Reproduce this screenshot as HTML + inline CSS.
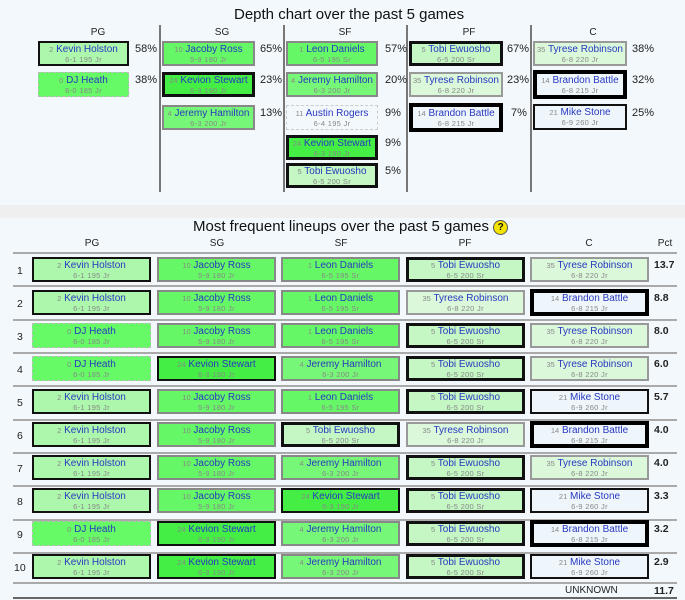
<!DOCTYPE html>
<html><head><meta charset="utf-8"><style>
body{margin:0;width:685px;height:600px;background:#f2f8fc;font-family:"Liberation Sans",sans-serif;position:relative;overflow:hidden}
.a{position:absolute}
.t{position:absolute;font-size:15px;color:#111;white-space:nowrap}
.h{position:absolute;font-size:10px;color:#222;transform:translateX(-50%)}
.p{position:absolute;font-size:11px;color:#222}
.v{position:absolute;width:2px;background:#777;top:25px;height:167px}
.b{position:absolute;height:25px;box-sizing:border-box;text-align:center;font-size:10px;line-height:11px;color:#2838c0;white-space:nowrap;overflow:hidden;display:flex;flex-direction:column;justify-content:center}
.b i{font-style:normal;font-size:7.5px;color:#888}
.b s{display:block;text-decoration:none;font-size:7.5px;color:#888;line-height:9px;letter-spacing:.3px}
.KH{background:#adf7ad;border:2px solid #111}
.DJ{background:#66fa66;border:1px dashed #bbb}
.JR,.LD{background:#66f766;border:2px solid #888}
.KS{background:#44ee44;border:2px solid #111}
.JH{background:#77f777;border:2px solid #888}
.AR{background:#f3f8fc;border:1px dashed #ccc}
.TE{background:#c4f7c4;border:3px solid #111}
.TR{background:#dbf8db;border:2px solid #999}
.BB{background:#eef6fb;border:4px solid #000}
.MS{background:#eef6fb;border:2px solid #111}
.d{width:91px}
.l{width:119px;top:0}
.l.BB{height:27px;top:-1px}
.r{position:absolute;left:0;width:685px;height:33px}
.n{position:absolute;left:17px;top:8px;font-size:10.5px;color:#222}
.pc{position:absolute;left:654px;top:2px;font-size:10.5px;color:#222;font-weight:bold}
.hl{position:absolute;left:13px;width:664px;height:2px;background:#aaa}
</style></head><body>
<div class="t" style="left:234px;top:6px">Depth chart over the past 5 games</div>
<div class="h" style="left:98px;top:27px">PG</div>
<div class="h" style="left:222px;top:27px">SG</div>
<div class="h" style="left:345px;top:27px">SF</div>
<div class="h" style="left:469px;top:27px">PF</div>
<div class="h" style="left:593px;top:27px">C</div>
<div class="v" style="left:159px"></div><div class="v" style="left:283px"></div><div class="v" style="left:406px"></div><div class="v" style="left:530px"></div>

<div class="b d KH" style="left:38px;top:41px"><div><i>2</i> Kevin Holston</div><s>6-1 195 Jr</s></div><div class="p" style="left:135px;top:43px">58%</div>
<div class="b d DJ" style="left:38px;top:72px"><div><i>0</i> DJ Heath</div><s>6-0 185 Jr</s></div><div class="p" style="left:135px;top:74px">38%</div>

<div class="b d JR" style="left:162px;top:41px;width:93px"><div><i>10</i> Jacoby Ross</div><s>5-9 180 Jr</s></div><div class="p" style="left:260px;top:43px">65%</div>
<div class="b d KS" style="left:162px;top:72px;width:93px;border-width:3px"><div><i>24</i> Kevion Stewart</div><s>6-3 190 Jr</s></div><div class="p" style="left:260px;top:74px">23%</div>
<div class="b d JH" style="left:162px;top:105px;width:93px"><div><i>4</i> Jeremy Hamilton</div><s>6-3 200 Jr</s></div><div class="p" style="left:260px;top:107px">13%</div>

<div class="b d LD" style="left:286px;top:41px;width:92px"><div><i>1</i> Leon Daniels</div><s>6-5 195 Sr</s></div><div class="p" style="left:385px;top:43px">57%</div>
<div class="b d JH" style="left:286px;top:72px;width:92px"><div><i>4</i> Jeremy Hamilton</div><s>6-3 200 Jr</s></div><div class="p" style="left:385px;top:74px">20%</div>
<div class="b d AR" style="left:286px;top:105px;width:92px"><div><i>11</i> Austin Rogers</div><s>6-4 195 Jr</s></div><div class="p" style="left:385px;top:107px">9%</div>
<div class="b d KS" style="left:286px;top:135px;width:92px;border-width:3px"><div><i>24</i> Kevion Stewart</div><s>6-3 190 Jr</s></div><div class="p" style="left:385px;top:137px">9%</div>
<div class="b d TE" style="left:286px;top:163px;width:92px"><div><i>5</i> Tobi Ewuosho</div><s>6-5 200 Sr</s></div><div class="p" style="left:385px;top:165px">5%</div>

<div class="b d TE" style="left:409px;top:41px;width:94px"><div><i>5</i> Tobi Ewuosho</div><s>6-5 200 Sr</s></div><div class="p" style="left:507px;top:43px">67%</div>
<div class="b d TR" style="left:409px;top:72px;width:94px"><div><i>35</i> Tyrese Robinson</div><s>6-8 220 Jr</s></div><div class="p" style="left:507px;top:74px">23%</div>
<div class="b d BB" style="left:409px;top:103px;width:94px;height:29px"><div><i>14</i> Brandon Battle</div><s>6-8 215 Jr</s></div><div class="p" style="left:511px;top:107px">7%</div>

<div class="b d TR" style="left:533px;top:41px;width:94px"><div><i>35</i> Tyrese Robinson</div><s>6-8 220 Jr</s></div><div class="p" style="left:632px;top:43px">38%</div>
<div class="b d BB" style="left:533px;top:70px;width:94px;height:29px"><div><i>14</i> Brandon Battle</div><s>6-8 215 Jr</s></div><div class="p" style="left:632px;top:74px">32%</div>
<div class="b d MS" style="left:533px;top:104px;width:94px;height:26px"><div><i>21</i> Mike Stone</div><s>6-9 260 Jr</s></div><div class="p" style="left:632px;top:107px">25%</div>

<div class="a" style="left:0;top:205px;width:685px;height:13px;background:#efefef"></div>
<div class="t" style="left:193px;top:218px">Most frequent lineups over the past 5 games <span style="display:inline-block;width:13px;height:13px;border-radius:50%;background:#f5e400;border:1px solid #555;font-size:10px;line-height:13px;text-align:center;font-weight:bold;vertical-align:1px">?</span></div>
<div class="h" style="left:92px;top:238px">PG</div>
<div class="h" style="left:217px;top:238px">SG</div>
<div class="h" style="left:341px;top:238px">SF</div>
<div class="h" style="left:465px;top:238px">PF</div>
<div class="h" style="left:589px;top:238px">C</div>
<div class="h" style="left:665px;top:238px">Pct</div>

<div class="hl" style="top:252px"></div><div class="hl" style="top:285px"></div><div class="hl" style="top:319px"></div><div class="hl" style="top:352px"></div><div class="hl" style="top:385px"></div><div class="hl" style="top:419px"></div><div class="hl" style="top:452px"></div><div class="hl" style="top:485px"></div><div class="hl" style="top:519px"></div><div class="hl" style="top:552px"></div><div class="hl" style="top:582px"></div><div class="hl" style="top:597px;background:#666"></div>

<div class="r" style="top:257px"><div class="n">1</div>
<div class="b l KH" style="left:32px"><div><i>2</i> Kevin Holston</div><s>6-1 195 Jr</s></div>
<div class="b l JR" style="left:157px"><div><i>10</i> Jacoby Ross</div><s>5-9 180 Jr</s></div>
<div class="b l LD" style="left:281px"><div><i>1</i> Leon Daniels</div><s>6-5 195 Sr</s></div>
<div class="b l TE" style="left:406px"><div><i>5</i> Tobi Ewuosho</div><s>6-5 200 Sr</s></div>
<div class="b l TR" style="left:530px"><div><i>35</i> Tyrese Robinson</div><s>6-8 220 Jr</s></div>
<div class="pc">13.7</div></div>

<div class="r" style="top:290px"><div class="n">2</div>
<div class="b l KH" style="left:32px"><div><i>2</i> Kevin Holston</div><s>6-1 195 Jr</s></div>
<div class="b l JR" style="left:157px"><div><i>10</i> Jacoby Ross</div><s>5-9 180 Jr</s></div>
<div class="b l LD" style="left:281px"><div><i>1</i> Leon Daniels</div><s>6-5 195 Sr</s></div>
<div class="b l TR" style="left:406px"><div><i>35</i> Tyrese Robinson</div><s>6-8 220 Jr</s></div>
<div class="b l BB" style="left:530px"><div><i>14</i> Brandon Battle</div><s>6-8 215 Jr</s></div>
<div class="pc">8.8</div></div>

<div class="r" style="top:323px"><div class="n">3</div>
<div class="b l DJ" style="left:32px"><div><i>0</i> DJ Heath</div><s>6-0 185 Jr</s></div>
<div class="b l JR" style="left:157px"><div><i>10</i> Jacoby Ross</div><s>5-9 180 Jr</s></div>
<div class="b l LD" style="left:281px"><div><i>1</i> Leon Daniels</div><s>6-5 195 Sr</s></div>
<div class="b l TE" style="left:406px"><div><i>5</i> Tobi Ewuosho</div><s>6-5 200 Sr</s></div>
<div class="b l TR" style="left:530px"><div><i>35</i> Tyrese Robinson</div><s>6-8 220 Jr</s></div>
<div class="pc">8.0</div></div>

<div class="r" style="top:356px"><div class="n">4</div>
<div class="b l DJ" style="left:32px"><div><i>0</i> DJ Heath</div><s>6-0 185 Jr</s></div>
<div class="b l KS" style="left:157px"><div><i>24</i> Kevion Stewart</div><s>6-3 190 Jr</s></div>
<div class="b l JH" style="left:281px"><div><i>4</i> Jeremy Hamilton</div><s>6-3 200 Jr</s></div>
<div class="b l TE" style="left:406px"><div><i>5</i> Tobi Ewuosho</div><s>6-5 200 Sr</s></div>
<div class="b l TR" style="left:530px"><div><i>35</i> Tyrese Robinson</div><s>6-8 220 Jr</s></div>
<div class="pc">6.0</div></div>

<div class="r" style="top:389px"><div class="n">5</div>
<div class="b l KH" style="left:32px"><div><i>2</i> Kevin Holston</div><s>6-1 195 Jr</s></div>
<div class="b l JR" style="left:157px"><div><i>10</i> Jacoby Ross</div><s>5-9 180 Jr</s></div>
<div class="b l LD" style="left:281px"><div><i>1</i> Leon Daniels</div><s>6-5 195 Sr</s></div>
<div class="b l TE" style="left:406px"><div><i>5</i> Tobi Ewuosho</div><s>6-5 200 Sr</s></div>
<div class="b l MS" style="left:530px"><div><i>21</i> Mike Stone</div><s>6-9 260 Jr</s></div>
<div class="pc">5.7</div></div>

<div class="r" style="top:422px"><div class="n">6</div>
<div class="b l KH" style="left:32px"><div><i>2</i> Kevin Holston</div><s>6-1 195 Jr</s></div>
<div class="b l JR" style="left:157px"><div><i>10</i> Jacoby Ross</div><s>5-9 180 Jr</s></div>
<div class="b l TE" style="left:281px"><div><i>5</i> Tobi Ewuosho</div><s>6-5 200 Sr</s></div>
<div class="b l TR" style="left:406px"><div><i>35</i> Tyrese Robinson</div><s>6-8 220 Jr</s></div>
<div class="b l BB" style="left:530px"><div><i>14</i> Brandon Battle</div><s>6-8 215 Jr</s></div>
<div class="pc">4.0</div></div>

<div class="r" style="top:455px"><div class="n">7</div>
<div class="b l KH" style="left:32px"><div><i>2</i> Kevin Holston</div><s>6-1 195 Jr</s></div>
<div class="b l JR" style="left:157px"><div><i>10</i> Jacoby Ross</div><s>5-9 180 Jr</s></div>
<div class="b l JH" style="left:281px"><div><i>4</i> Jeremy Hamilton</div><s>6-3 200 Jr</s></div>
<div class="b l TE" style="left:406px"><div><i>5</i> Tobi Ewuosho</div><s>6-5 200 Sr</s></div>
<div class="b l TR" style="left:530px"><div><i>35</i> Tyrese Robinson</div><s>6-8 220 Jr</s></div>
<div class="pc">4.0</div></div>

<div class="r" style="top:488px"><div class="n">8</div>
<div class="b l KH" style="left:32px"><div><i>2</i> Kevin Holston</div><s>6-1 195 Jr</s></div>
<div class="b l JR" style="left:157px"><div><i>10</i> Jacoby Ross</div><s>5-9 180 Jr</s></div>
<div class="b l KS" style="left:281px"><div><i>24</i> Kevion Stewart</div><s>6-3 190 Jr</s></div>
<div class="b l TE" style="left:406px"><div><i>5</i> Tobi Ewuosho</div><s>6-5 200 Sr</s></div>
<div class="b l MS" style="left:530px"><div><i>21</i> Mike Stone</div><s>6-9 260 Jr</s></div>
<div class="pc">3.3</div></div>

<div class="r" style="top:521px"><div class="n">9</div>
<div class="b l DJ" style="left:32px"><div><i>0</i> DJ Heath</div><s>6-0 185 Jr</s></div>
<div class="b l KS" style="left:157px"><div><i>24</i> Kevion Stewart</div><s>6-3 190 Jr</s></div>
<div class="b l JH" style="left:281px"><div><i>4</i> Jeremy Hamilton</div><s>6-3 200 Jr</s></div>
<div class="b l TE" style="left:406px"><div><i>5</i> Tobi Ewuosho</div><s>6-5 200 Sr</s></div>
<div class="b l BB" style="left:530px"><div><i>14</i> Brandon Battle</div><s>6-8 215 Jr</s></div>
<div class="pc">3.2</div></div>

<div class="r" style="top:554px"><div class="n" style="left:14px">10</div>
<div class="b l KH" style="left:32px"><div><i>2</i> Kevin Holston</div><s>6-1 195 Jr</s></div>
<div class="b l KS" style="left:157px"><div><i>24</i> Kevion Stewart</div><s>6-3 190 Jr</s></div>
<div class="b l JH" style="left:281px"><div><i>4</i> Jeremy Hamilton</div><s>6-3 200 Jr</s></div>
<div class="b l TE" style="left:406px"><div><i>5</i> Tobi Ewuosho</div><s>6-5 200 Sr</s></div>
<div class="b l MS" style="left:530px"><div><i>21</i> Mike Stone</div><s>6-9 260 Jr</s></div>
<div class="pc">2.9</div></div>

<div class="a" style="left:565px;top:585px;font-size:10px;color:#222">UNKNOWN</div>
<div class="a" style="left:654px;top:585px;font-size:10.5px;color:#222;font-weight:bold">11.7</div>
</body></html>
